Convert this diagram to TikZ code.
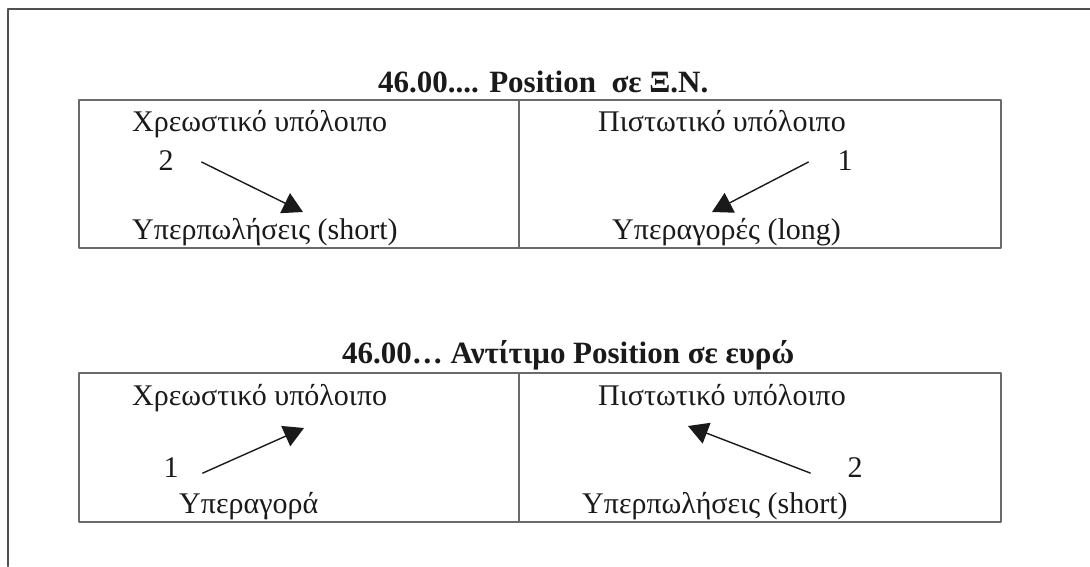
\documentclass[tikz,border=0pt]{standalone}
\usepackage{fontspec}
\setmainfont{Liberation Serif}
\usetikzlibrary{arrows.meta,positioning}
\definecolor{ledgerInk}{HTML}{1A1A1A}
\definecolor{ledgerRule}{HTML}{6A6A6A}
\definecolor{ledgerFrame}{HTML}{505050}

\begin{document}
\begin{tikzpicture}[x=1pt,y=-1pt,>=Latex,line cap=round,line join=round]
\useasboundingbox[fill=white] (0,0) rectangle (1090,566);
\tikzset{txt/.style={inner sep=0pt,text=ledgerInk,font=\fontsize{30}{36}\selectfont},ttl/.style={inner sep=0pt,text=ledgerInk,font=\fontsize{31}{37}\selectfont\bfseries},rule/.style={draw=ledgerRule,line width=1.6pt},flow/.style={draw=ledgerInk,line width=1.4pt,-{Triangle[length=20pt,width=22pt]}}}
% page frame, open to the right and bottom
\draw[draw=ledgerFrame,line width=2.4pt] (8,566) -- (8,9) -- (1090,9);

% position in foreign currency
\node[ttl,anchor=base west] (ttlFx) at (378,92) {46.00.... Position\ \ σε Ξ.Ν.};
\draw[rule] (79,100) rectangle (1001,248); \draw[rule] (519,100) -- (519,248);
\node[txt,anchor=base west] (drFx) at (132,131) {Χρεωστικό υπόλοιπο};
\node[txt,anchor=base west] (crFx) at (598,131) {Πιστωτικό υπόλοιπο};
\node[txt,anchor=base] (stepFxL) at (166,170) {2};
\node[txt,anchor=base] (stepFxR) at (845,170) {1};
\node[txt,anchor=base west] (shortFx) at (132,239) {Υπερπωλήσεις (short)};
\node[txt,anchor=base west] (longFx) at (612,239) {Υπεραγορές (long)};
\coordinate (tipFxL) at (303,212); \coordinate (tipFxR) at (712,212);
\draw[flow] (stepFxL.east) ++(28,2) -- (tipFxL);
\draw[flow] (stepFxR.west) ++(-29,2) -- (tipFxR);

% counter-value in euro
\node[ttl,anchor=base west] (ttlEur) at (342,363) {46.00… Αντίτιμο Position σε ευρώ};
\draw[rule] (79,373) rectangle (1001,522); \draw[rule] (519,373) -- (519,522);
\node[txt,anchor=base west] (drEur) at (132,405) {Χρεωστικό υπόλοιπο};
\node[txt,anchor=base west] (crEur) at (598,405) {Πιστωτικό υπόλοιπο};
\node[txt,anchor=base] (stepEurL) at (171,477) {1};
\node[txt,anchor=base] (stepEurR) at (855,477) {2};
\node[txt,anchor=base west] (longEur) at (179,513) {Υπεραγορά};
\node[txt,anchor=base west] (shortEur) at (582,513) {Υπερπωλήσεις (short)};
\coordinate (tipEurL) at (304,428); \coordinate (tipEurR) at (688,426);
\draw[flow] (stepEurL.east) ++(24,6) -- (tipEurL);
\draw[flow] (stepEurR.west) ++(-37,6) -- (tipEurR);
\end{tikzpicture}
\end{document}
